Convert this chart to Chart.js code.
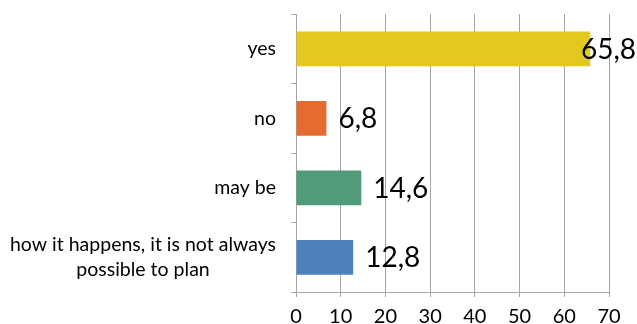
<!DOCTYPE html>
<html>
<head>
<meta charset="utf-8">
<script src="https://cdn.jsdelivr.net/npm/chart.js@4"></script>
<style>
  html, body { margin: 0; padding: 0; background: #fff; }
  #wrap { width: 637px; height: 324px; }
</style>
</head>
<body>
<div id="wrap"><canvas id="c" width="637" height="324"></canvas></div>
<script>
const categories = ["yes", "no", "may be", ["how it happens, it is not always", "possible to plan"]];
const values = [65.8, 6.8, 14.6, 12.8];
const valueLabels = ["65,8", "6,8", "14,6", "12,8"];
const barColors = ["#E3C81F", "#E46C31", "#529B7A", "#4F81BD"];
const xTicks = [0, 10, 20, 30, 40, 50, 60, 70];

const FONT = "Lato, 'Open Sans', sans-serif";
const CAT_FONT_SIZE = 19.5;
const CAT_LINE = 24.5;

// value labels beside each bar, pushed back inside the canvas if too wide
const valueLabelPlugin = {
  id: "valueLabels",
  afterDatasetsDraw(chart) {
    const ctx = chart.ctx;
    const meta = chart.getDatasetMeta(0);
    ctx.save();
    ctx.font = "28px " + FONT;
    ctx.fillStyle = "#000";
    ctx.textBaseline = "middle";
    ctx.textAlign = "left";
    meta.data.forEach((bar, i) => {
      const txt = valueLabels[i];
      const w = ctx.measureText(txt).width;
      let x = bar.x + 12;
      if (x + w > chart.width - 1) x = chart.width - 1 - w;
      ctx.fillText(txt, x, bar.y + 1);
    });
    ctx.restore();
  }
};

// category labels: block right-aligned to the axis, lines centred inside the block
const categoryLabelPlugin = {
  id: "categoryLabels",
  afterDraw(chart) {
    const ctx = chart.ctx;
    const y = chart.scales.y;
    const right = y.right - 5 - 15;
    ctx.save();
    ctx.font = CAT_FONT_SIZE + "px " + FONT;
    ctx.fillStyle = "#000";
    ctx.textAlign = "center";
    ctx.textBaseline = "middle";
    categories.forEach((cat, i) => {
      const lines = Array.isArray(cat) ? cat : [cat];
      const bw = Math.max(...lines.map(l => ctx.measureText(l).width));
      const cx = right - bw / 2;
      const cy = y.getPixelForValue(i);
      lines.forEach((l, k) => {
        ctx.fillText(l, cx, cy + (k - (lines.length - 1) / 2) * CAT_LINE);
      });
    });
    ctx.restore();
  }
};

new Chart(document.getElementById("c"), {
  type: "bar",
  data: {
    labels: categories,
    datasets: [{
      data: values,
      backgroundColor: barColors,
      barPercentage: 1,
      categoryPercentage: 0.5
    }]
  },
  options: {
    indexAxis: "y",
    responsive: false,
    animation: false,
    layout: { padding: { top: 14, right: 28, left: 0, bottom: 0 } },
    plugins: { legend: { display: false }, tooltip: { enabled: false } },
    scales: {
      x: {
        min: 0,
        max: 70,
        afterBuildTicks(axis) { axis.ticks = xTicks.map(v => ({ value: v })); },
        afterFit(axis) { axis.height = 32; axis.paddingLeft = 0; axis.paddingRight = 0; },
        grid: { color: "#A6A6A6", lineWidth: 1, tickLength: 5 },
        border: { color: "#A6A6A6" },
        ticks: { color: "#000", font: { family: FONT, size: 20 }, padding: 8 }
      },
      y: {
        afterFit(axis) { axis.width = 296; axis.paddingTop = 0; axis.paddingBottom = 0; },
        grid: { drawOnChartArea: false, color: "#A6A6A6", tickLength: 5, offset: true },
        border: { color: "#A6A6A6" },
        ticks: { display: false }
      }
    }
  },
  plugins: [valueLabelPlugin, categoryLabelPlugin]
});
</script>
</body>
</html>
